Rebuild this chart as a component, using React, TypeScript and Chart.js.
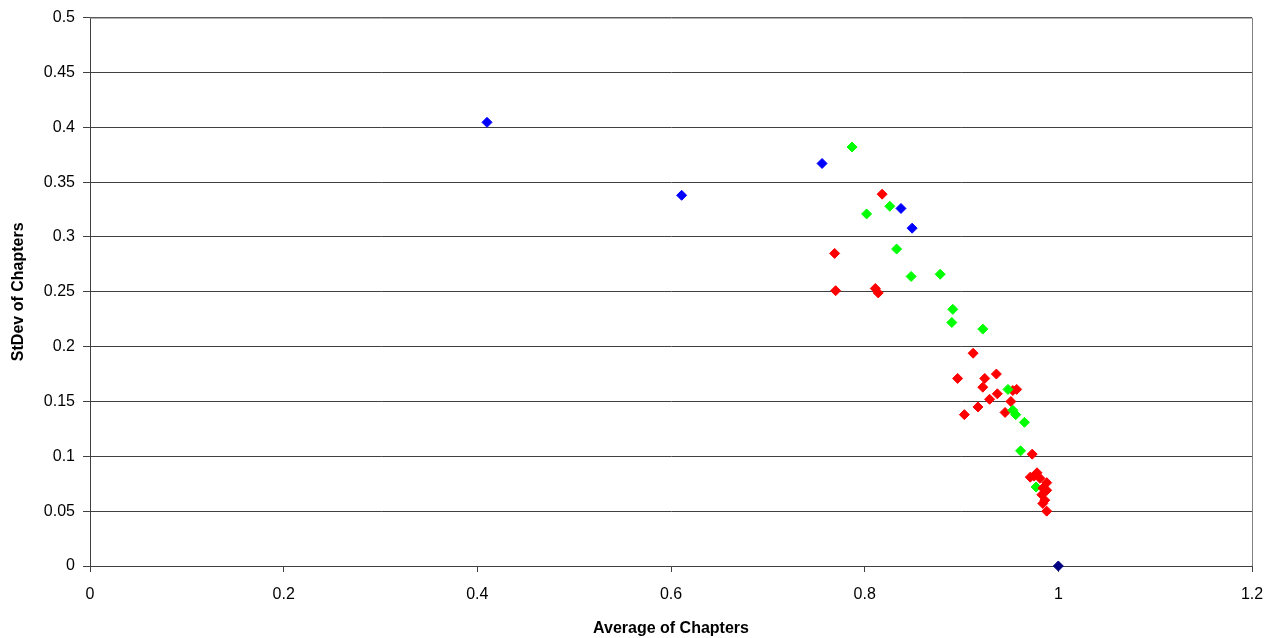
import React, { useEffect, useRef } from "react";
import { Chart, registerables } from "chart.js";

Chart.register(...registerables);

const blueX = [0.41, 0.611, 0.756, 0.8375, 0.849];
const blueY = [0.4045, 0.338, 0.367, 0.326, 0.308];

const navyX = [1.0];
const navyY = [0.0];

const greenX = [0.787, 0.826, 0.802, 0.833, 0.848, 0.878, 0.891, 0.89, 0.922, 0.948, 0.953, 0.956, 0.965, 0.961];
const greenY = [0.382, 0.328, 0.321, 0.289, 0.264, 0.266, 0.234, 0.222, 0.216, 0.161, 0.142, 0.138, 0.131, 0.105];

const redX = [0.818, 0.769, 0.77, 0.811, 0.814, 0.912, 0.896, 0.924, 0.936, 0.922, 0.937, 0.929, 0.953, 0.957, 0.951, 0.917, 0.903, 0.945, 0.973, 0.978, 0.971, 0.975, 0.981, 0.988, 0.984, 0.988, 0.983, 0.986, 0.984, 0.988];
const redY = [0.339, 0.285, 0.251, 0.253, 0.249, 0.194, 0.171, 0.171, 0.175, 0.163, 0.157, 0.152, 0.16, 0.161, 0.15, 0.145, 0.138, 0.14, 0.102, 0.085, 0.081, 0.082, 0.08, 0.076, 0.071, 0.069, 0.065, 0.06, 0.057, 0.05];

const greenTopX = [0.977];
const greenTopY = [0.072];

const xTitle = "Average of Chapters";
const yTitle = "StDev of Chapters";

const pts = (xs: number[], ys: number[]) => xs.map((x, i) => ({ x, y: ys[i] }));

const FONT = "'Liberation Sans', Arial, sans-serif";

export default function App() {
  const ref = useRef<HTMLCanvasElement | null>(null);
  useEffect(() => {
    document.body.style.margin = "0";
    if (!ref.current) return;
    const mk = (label: string, data: any[], color: string) => ({
      label,
      data,
      backgroundColor: color,
      borderColor: color,
      pointStyle: "rectRot" as const,
      pointRadius: 5,
      pointBorderWidth: 1,
      showLine: false,
      clip: false as const,
    });
    const borderPlugin = {
      id: "rightBorder",
      afterDraw(chart: any) {
        const { ctx, chartArea } = chart;
        ctx.save();
        ctx.strokeStyle = "#808080";
        ctx.lineWidth = 1;
        ctx.beginPath();
        ctx.moveTo(chartArea.left, chartArea.top + 0.5);
        ctx.lineTo(chartArea.right + 0.5, chartArea.top + 0.5);
        ctx.lineTo(chartArea.right + 0.5, chartArea.bottom);
        ctx.stroke();
        ctx.restore();
      },
    };
    const chart = new Chart(ref.current, {
      type: "scatter",
      data: {
        datasets: [
          mk("Green", pts(greenX, greenY), "#00FF00"),
          mk("Red", pts(redX, redY), "#FF0000"),
          mk("Green2", pts(greenTopX, greenTopY), "#00FF00"),
          mk("Blue", pts(blueX, blueY), "#0000FF"),
          mk("Navy", pts(navyX, navyY), "#000080"),
        ],
      },
      options: {
        animation: false,
        responsive: false,
        maintainAspectRatio: false,
        layout: { padding: { top: 16, right: 29, left: 0, bottom: 0 } },
        plugins: { legend: { display: false }, tooltip: { enabled: false } },
        scales: {
          x: {
            type: "linear",
            min: 0,
            max: 1.2,
            afterFit: (s: any) => {
              s.height = 72;
            },
            ticks: {
              stepSize: 0.2,
              color: "#000",
              font: { family: FONT, size: 16 },
              padding: 13,
              callback: (v: any) => String(Math.round(Number(v) * 10) / 10),
            },
            grid: {
              drawOnChartArea: false,
              drawTicks: true,
              tickLength: 6,
              color: "#404040",
            },
            border: { display: true, color: "#404040", width: 1 },
            title: {
              display: true,
              text: xTitle,
              color: "#000",
              font: { family: FONT, size: 16, weight: "bold" },
              padding: { top: 4, bottom: 0 },
            },
          },
          y: {
            type: "linear",
            min: 0,
            max: 0.5,
            afterFit: (s: any) => {
              s.width = 90;
            },
            ticks: {
              stepSize: 0.05,
              color: "#000",
              font: { family: FONT, size: 16 },
              padding: 8,
              callback: (v: any) => String(Math.round(Number(v) * 100) / 100),
            },
            grid: {
              drawOnChartArea: true,
              drawTicks: true,
              tickLength: 7,
              color: "#404040",
              lineWidth: 1,
            },
            border: { display: true, color: "#404040", width: 1 },
            title: {
              display: true,
              text: yTitle,
              color: "#000",
              font: { family: FONT, size: 16, weight: "bold" },
              padding: { top: 9, bottom: 0 },
            },
          },
        },
      },
      plugins: [borderPlugin],
    });
    return () => chart.destroy();
  }, []);
  return (
    <div style={{ width: 1281, height: 638, background: "#fff" }}>
      <canvas ref={ref} width={1281} height={638} style={{ display: "block" }} />
    </div>
  );
}
